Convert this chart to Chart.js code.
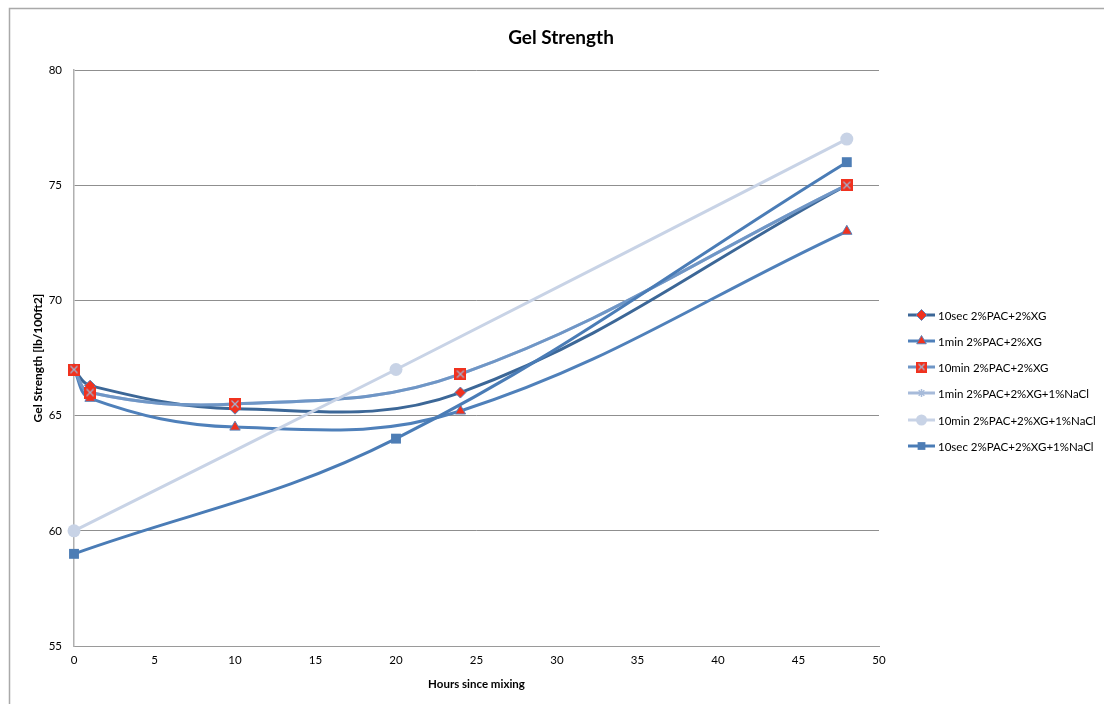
<!DOCTYPE html>
<html>
<head>
<meta charset="utf-8">
<title>Gel Strength</title>
<script src="https://cdn.jsdelivr.net/npm/chart.js@4/dist/chart.umd.min.js"></script>
<style>
  html, body { margin: 0; padding: 0; background: #ffffff; }
  #wrap { position: relative; width: 1104px; height: 704px; }
  canvas { display: block; }
</style>
</head>
<body>
<div id="wrap"><canvas id="chart" width="1104" height="704"></canvas></div>
<script>
// Measurement times (hours since mixing)
const hoursXG = [0, 1, 10, 24, 48];
const hoursNaCl = [0, 20, 48];

// Gel strength readings [lb/100ft2]
const sec10XG = [67, 66.3, 65.3, 66.0, 75];
const min1XG = [67, 65.75, 64.5, 65.2, 73];
const min10XG = [67, 66.0, 65.5, 66.8, 75];
const min1XGNaCl = [67, 66.0, 65.5, 66.8, 75];
const min10XGNaCl = [60, 67, 77];
const sec10XGNaCl = [59, 64, 76];

const seriesNames = [
  '10sec 2%PAC+2%XG',
  '1min 2%PAC+2%XG',
  '10min 2%PAC+2%XG',
  '1min 2%PAC+2%XG+1%NaCl',
  '10min 2%PAC+2%XG+1%NaCl',
  '10sec 2%PAC+2%XG+1%NaCl'
];

const yTicks = [55, 60, 65, 70, 75, 80];
const xTicks = [0, 5, 10, 15, 20, 25, 30, 35, 40, 45, 50];

const FONT = 'Lato, "Open Sans", "DejaVu Sans", sans-serif';
const RED = '#f0321f';

// Red square marker with a crossed overlay
function crossBox(size) {
  const c = document.createElement('canvas');
  c.width = size; c.height = size;
  const g = c.getContext('2d');
  g.fillStyle = RED;
  g.fillRect(0, 0, size, size);
  g.strokeStyle = '#a3b3cf';
  g.lineWidth = 1.3;
  g.beginPath();
  g.moveTo(2.5, 2.5); g.lineTo(size - 2.5, size - 2.5);
  g.moveTo(size - 2.5, 2.5); g.lineTo(2.5, size - 2.5);
  g.stroke();
  return c;
}
const boxMarker = crossBox(12);
const boxMarkerSmall = crossBox(11);

function pts(xs, ys) { return xs.map((x, i) => ({ x: x, y: ys[i] })); }

const base = { showLine: true, borderWidth: 3, tension: 0.38, clip: false, fill: false };

const datasets = [
  Object.assign({}, base, {
    label: seriesNames[0], data: pts(hoursXG, sec10XG),
    borderColor: '#3c6797', pointStyle: 'rectRot', pointRadius: 5.5,
    pointBackgroundColor: RED, pointBorderColor: '#5a82b8', pointBorderWidth: 1, order: 5
  }),
  Object.assign({}, base, {
    label: seriesNames[1], data: pts(hoursXG, min1XG),
    borderColor: '#4f80ba', pointStyle: 'triangle', pointRadius: 6,
    pointBackgroundColor: RED, pointBorderColor: '#5a82b8', pointBorderWidth: 1, order: 4
  }),
  Object.assign({}, base, {
    label: seriesNames[2], data: pts(hoursXG, min10XG),
    borderColor: '#6f96c6', pointStyle: boxMarker, pointRadius: 6,
    pointBackgroundColor: RED, pointBorderColor: RED, order: 3
  }),
  Object.assign({}, base, {
    label: seriesNames[3], data: pts(hoursXG, min1XGNaCl),
    borderColor: '#a7bbda', pointStyle: 'star', pointRadius: 4,
    pointBackgroundColor: '#a7bbda', pointBorderColor: '#a7bbda', pointBorderWidth: 1.5, order: 6
  }),
  Object.assign({}, base, {
    label: seriesNames[4], data: pts(hoursNaCl, min10XGNaCl),
    borderColor: '#c8d3e6', pointStyle: 'circle', pointRadius: 6.5,
    pointBackgroundColor: '#c8d3e6', pointBorderColor: '#c8d3e6', pointBorderWidth: 0, order: 2
  }),
  Object.assign({}, base, {
    label: seriesNames[5], data: pts(hoursNaCl, sec10XGNaCl),
    borderColor: '#4a7cb6', pointStyle: 'rect', pointRadius: 7,
    pointBackgroundColor: '#4d7db5', pointBorderColor: '#4d7db5', pointBorderWidth: 0, order: 1
  })
];

// Outer frame, titles and the side legend
const decorations = {
  id: 'decorations',
  beforeDraw(chart) {
    const ctx = chart.ctx;
    ctx.save();
    ctx.fillStyle = '#ffffff';
    ctx.fillRect(0, 0, chart.width, chart.height);
    ctx.strokeStyle = '#a9a9a9';
    ctx.lineWidth = 1.5;
    ctx.beginPath();
    ctx.moveTo(9.5, chart.height);
    ctx.lineTo(9.5, 8.5);
    ctx.lineTo(chart.width, 8.5);
    ctx.stroke();
    ctx.restore();
  },
  afterDraw(chart) {
    const ctx = chart.ctx;
    const area = chart.chartArea;
    ctx.save();
    ctx.fillStyle = '#000000';
    ctx.textAlign = 'center';
    ctx.textBaseline = 'middle';

    ctx.font = 'bold 19px ' + FONT;
    ctx.fillText('Gel Strength', 561, 38);

    ctx.font = 'bold 11.5px ' + FONT;
    ctx.fillText('Hours since mixing', (area.left + area.right) / 2, 684);

    ctx.save();
    ctx.translate(38, (area.top + area.bottom) / 2);
    ctx.rotate(-Math.PI / 2);
    ctx.font = 'bold 12px ' + FONT;
    ctx.fillText('Gel Strength [lb/100ft2]', 0, 0);
    ctx.restore();

    // legend
    const rowY = [315, 341, 367, 393, 420, 446];
    ctx.textAlign = 'left';
    ctx.font = '11.5px ' + FONT;
    datasets.forEach((ds, i) => {
      const y = rowY[i];
      ctx.strokeStyle = ds.borderColor;
      ctx.lineWidth = 3;
      ctx.beginPath();
      ctx.moveTo(908, y);
      ctx.lineTo(935, y);
      ctx.stroke();

      const style = ds.pointStyle === boxMarker ? boxMarkerSmall : ds.pointStyle;
      ctx.fillStyle = ds.pointBackgroundColor;
      ctx.strokeStyle = ds.pointBorderColor;
      ctx.lineWidth = ds.pointBorderWidth || 0;
      Chart.helpers.drawPoint(ctx, {
        pointStyle: style,
        radius: Math.min(ds.pointRadius, 5.5),
        rotation: 0,
        borderWidth: ds.pointBorderWidth || 0
      }, 921.5, y);

      ctx.fillStyle = '#000000';
      ctx.fillText(ds.label, 938, y + 1);
    });
    ctx.restore();
  }
};

new Chart(document.getElementById('chart'), {
  type: 'scatter',
  data: { datasets: datasets },
  options: {
    responsive: false,
    animation: false,
    devicePixelRatio: 1,
    layout: { padding: { top: 70, right: 225, bottom: 0, left: 0 } },
    plugins: {
      legend: { display: false },
      title: { display: false },
      tooltip: { enabled: false }
    },
    scales: {
      x: {
        type: 'linear',
        min: xTicks[0],
        max: xTicks[xTicks.length - 1],
        afterBuildTicks(scale) { scale.ticks = xTicks.map(v => ({ value: v })); },
        afterFit(scale) { scale.height = 58; },
        ticks: {
          padding: 7,
          color: '#000000',
          font: { family: FONT, size: 11.5 },
          maxRotation: 0
        },
        grid: { display: true, color: 'rgba(0,0,0,0)', drawTicks: false },
        border: { display: true, color: '#9a9a9a', width: 1 }
      },
      y: {
        type: 'linear',
        min: yTicks[0],
        max: yTicks[yTicks.length - 1],
        afterBuildTicks(scale) { scale.ticks = yTicks.map(v => ({ value: v })); },
        afterFit(scale) { scale.width = 74; },
        ticks: {
          padding: 12,
          color: '#000000',
          font: { family: FONT, size: 11.5 }
        },
        grid: { color: '#8f8f8f', lineWidth: 1, drawTicks: false },
        border: { display: true, color: '#b0b0b0', width: 1.5 }
      }
    }
  },
  plugins: [decorations]
});
</script>
</body>
</html>
